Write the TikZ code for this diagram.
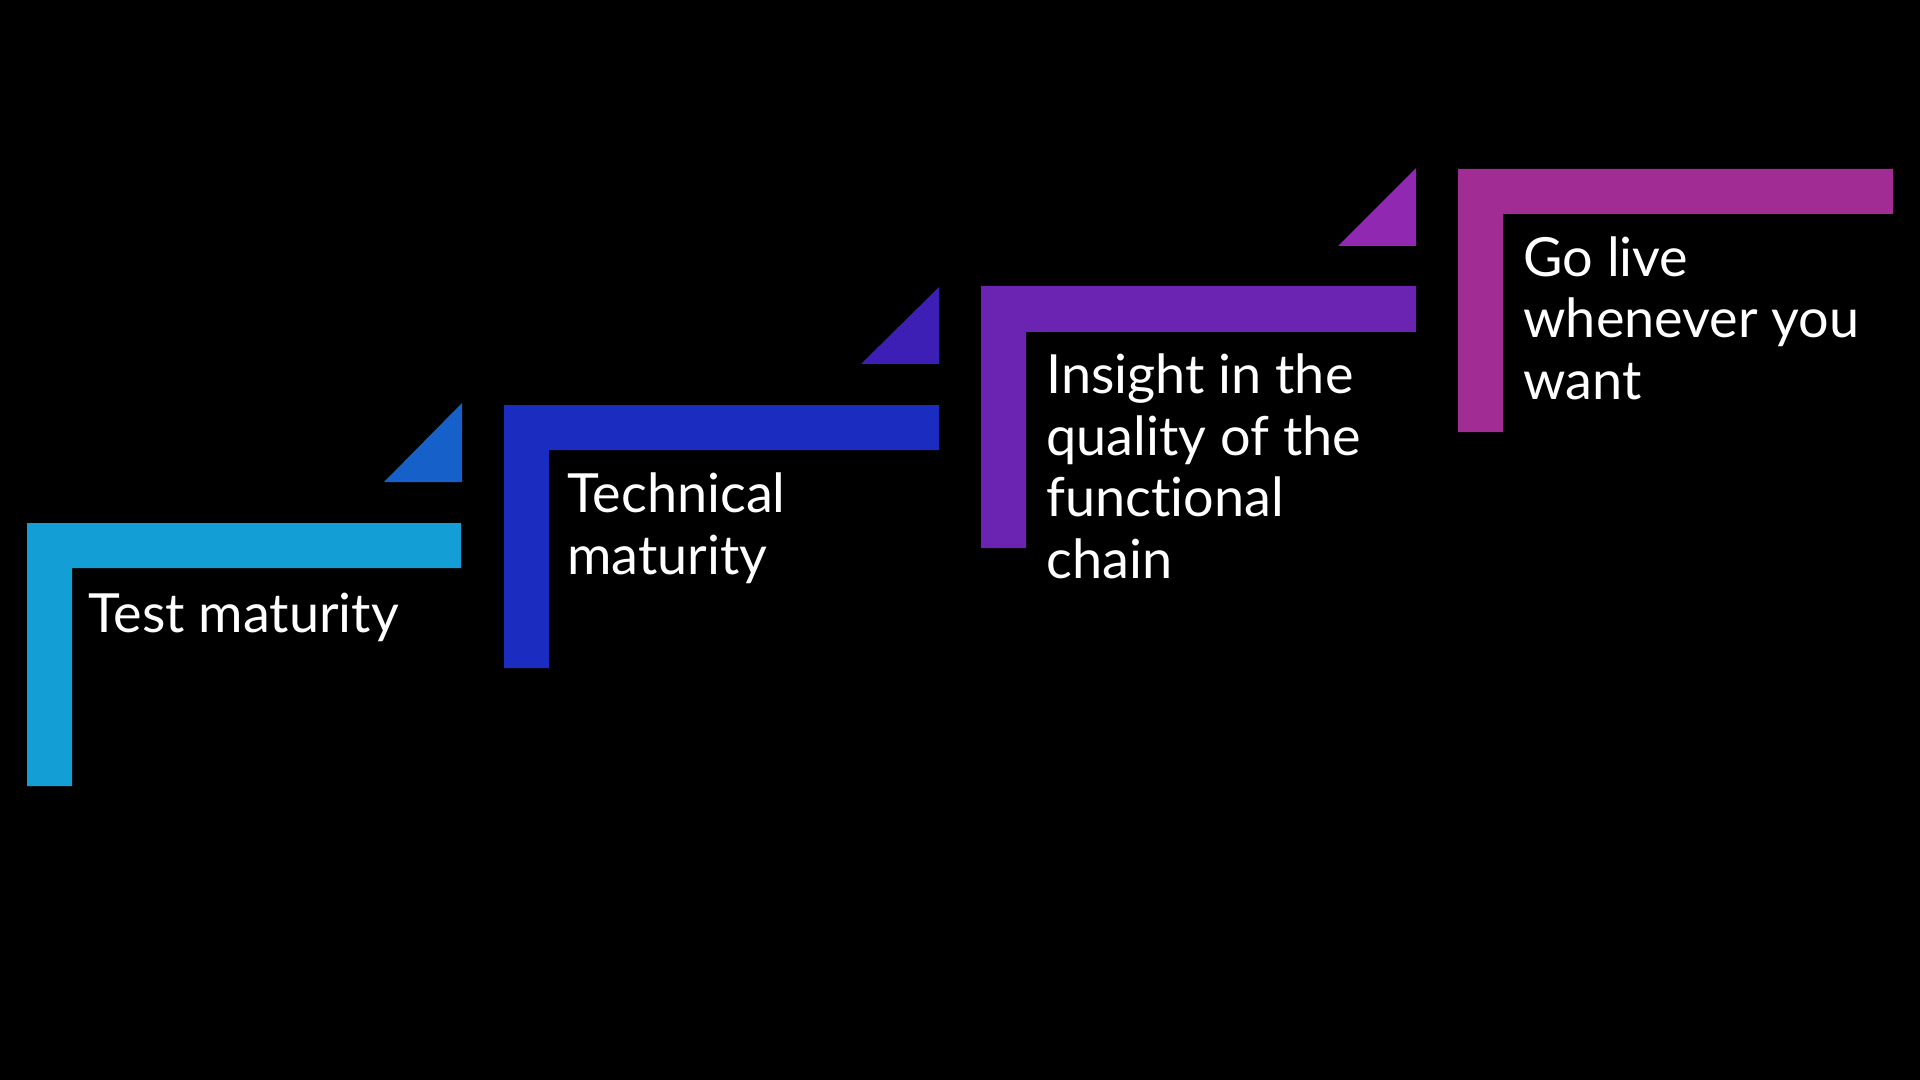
\documentclass[tikz,border=0pt]{standalone}
\usepackage{fontspec}
\setmainfont[Ligatures=NoCommon]{Lato}
\usepackage{tikz}
\usetikzlibrary{positioning}
\usepackage{xcolor}
\definecolor{StepOneBar}{RGB}{19,159,214}
\definecolor{StepOneTip}{RGB}{21,96,201}
\definecolor{StepTwoBar}{RGB}{27,44,193}
\definecolor{StepTwoTip}{RGB}{62,31,181}
\definecolor{StepThreeBar}{RGB}{106,36,177}
\definecolor{StepThreeTip}{RGB}{144,40,177}
\definecolor{StepFourBar}{RGB}{160,44,148}

\begin{document}
\begin{tikzpicture}[x=0.5pt,y=-0.5pt,
  steplabel/.style={anchor=base west,inner sep=0pt,align=left,text=white,
                    font=\fontsize{27}{30.7}\selectfont}]
  % background
  \fill[black] (0,0) rectangle (1920,1080);
  \useasboundingbox (0,0) rectangle (1920,1080);
  % Step 1
  \fill[StepOneBar] (27,523) -| (461,568) -| (72,786) -| cycle;
  \fill[StepOneTip] (384,482) -- (462,482) -- (462,403) -- cycle;
  \node[steplabel] (testmat) at (88,632) {Test maturity};
  % Step 2 (label placed at its last baseline)
  \fill[StepTwoBar] (504,405) -| (939,450) -| (549,668) -| cycle;
  \fill[StepTwoTip] (861,364) -- (939,364) -- (939,287) -- cycle;
  \node[steplabel] (techmat) at (567,574) {Technical\\maturity};
  % Step 3
  \fill[StepThreeBar] (981,286) -| (1416,332) -| (1026,548) -| cycle;
  \fill[StepThreeTip] (1338,246) -- (1416,246) -- (1416,168) -- cycle;
  \node[steplabel] (insight) at (1046,578) {Insight in the\\quality of the\\functional\\chain};
  % Step 4
  \fill[StepFourBar] (1458,169) -| (1893,214) -| (1503,432) -| cycle;
  \node[steplabel] (golive) at (1523,399) {Go live\\whenever you\\want};
\end{tikzpicture}
\end{document}
